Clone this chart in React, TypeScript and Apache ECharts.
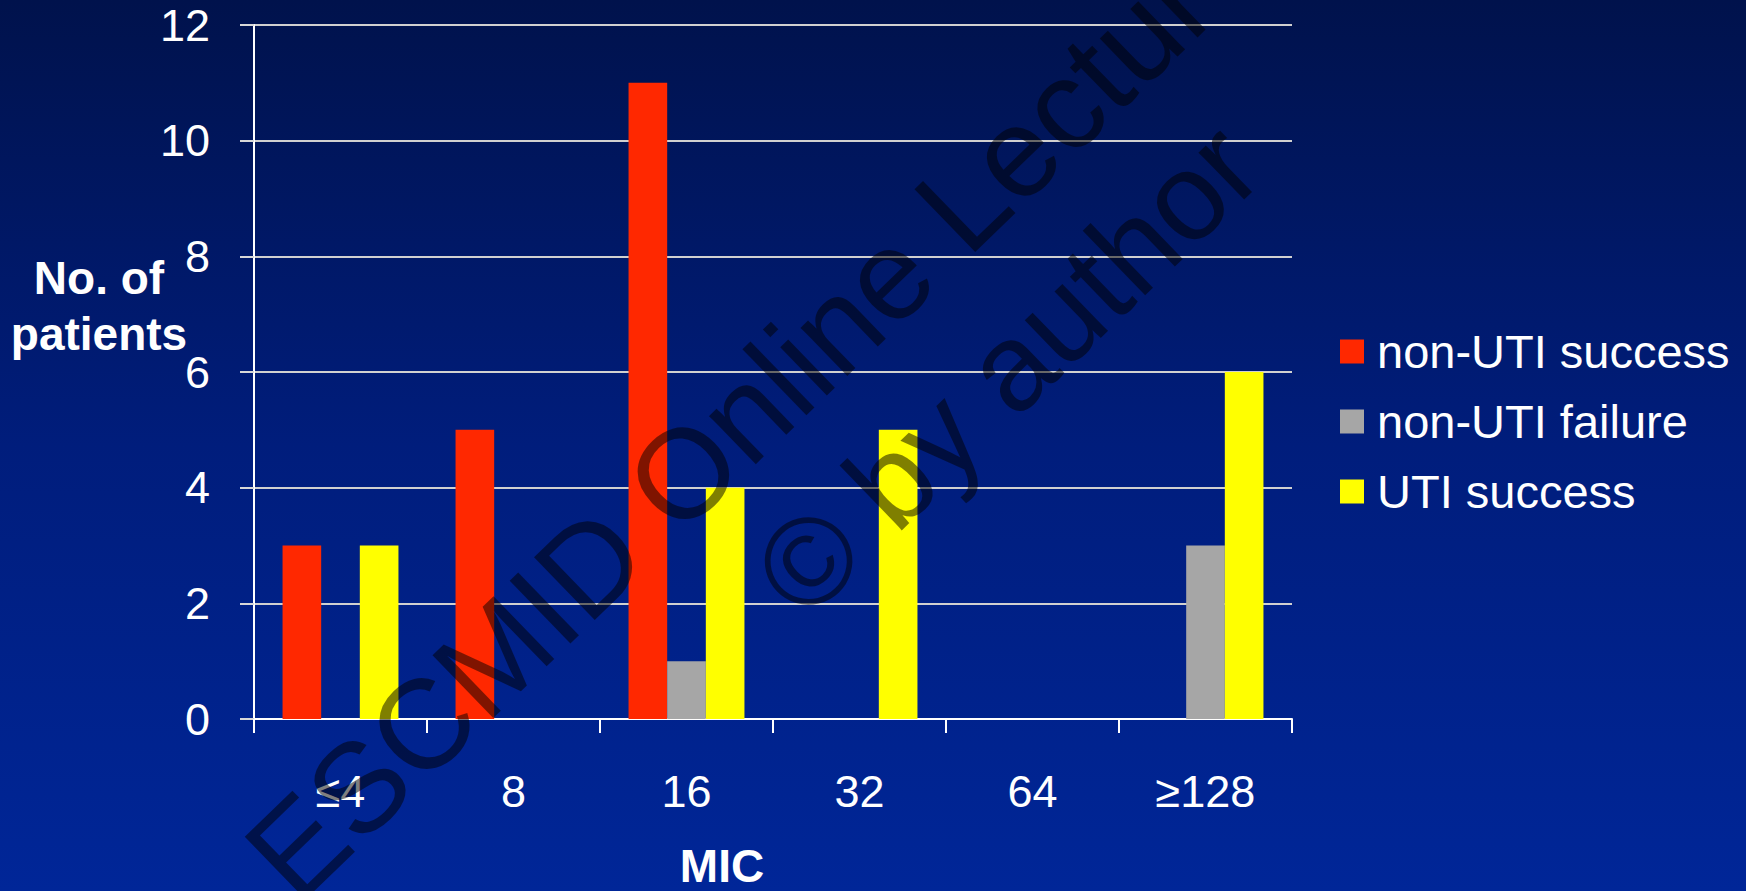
import React, { useEffect, useRef } from "react";
import * as echarts from "echarts";

// MIC categories on the x axis
const categories = ["≤4", "8", "16", "32", "64", "≥128"];

// Number of patients per MIC value
const nonUtiSuccess = [3, 5, 11, 0, 0, 0];
const nonUtiFailure = [0, 0, 1, 0, 0, 3];
const utiSuccess = [3, 0, 4, 5, 0, 6];

// Y axis range
const yMin = 0;
const yMax = 12;
const yStep = 2;

const seriesNames = ["non-UTI success", "non-UTI failure", "UTI success"];
const seriesColors = ["#ff2800", "#a6a6a6", "#ffff00"];

const FONT = '"Liberation Sans", Arial, Helvetica, sans-serif';

export default function App() {
  const ref = useRef<HTMLDivElement>(null);

  useEffect(() => {
    if (!ref.current) return;
    const chart = echarts.init(ref.current, undefined, { renderer: "svg" });

    const values = [nonUtiSuccess, nonUtiFailure, utiSuccess];

    chart.setOption({
      animation: false,
      backgroundColor: new echarts.graphic.LinearGradient(0, 0, 0, 1, [
        { offset: 0, color: "#00124c" },
        { offset: 0.5, color: "#001d7c" },
        { offset: 1, color: "#002698" },
      ]),
      textStyle: { fontFamily: FONT },
      grid: { left: 254, top: 25, width: 1038, height: 694, containLabel: false },
      legend: {
        orient: "vertical",
        left: 1340,
        top: 328,
        padding: 0,
        itemWidth: 24,
        itemHeight: 24,
        itemGap: 23,
        icon: "rect",
        data: seriesNames,
        textStyle: {
          color: "#ffffff",
          fontSize: 47,
          fontFamily: FONT,
          padding: [0, 0, 0, 8],
        },
      },
      xAxis: {
        type: "category",
        data: categories,
        axisLine: { show: true, lineStyle: { color: "#ffffff", width: 2 } },
        axisTick: { show: true, length: 14, lineStyle: { color: "#ffffff", width: 2 } },
        axisLabel: { color: "#ffffff", fontSize: 45, margin: 50, fontFamily: FONT },
        splitLine: { show: false },
      },
      yAxis: {
        type: "value",
        min: yMin,
        max: yMax,
        interval: yStep,
        axisLine: { show: true, lineStyle: { color: "#ffffff", width: 2 } },
        axisTick: { show: true, length: 14, lineStyle: { color: "#d8d8d8", width: 2 } },
        axisLabel: { color: "#ffffff", fontSize: 45, margin: 44, fontFamily: FONT },
        splitLine: { show: true, lineStyle: { color: "#d0d0d0", width: 2 } },
      },
      series: seriesNames.map((name, i) => ({
        name,
        type: "bar",
        data: values[i],
        barGap: "0%",
        barCategoryGap: "33%",
        itemStyle: { color: seriesColors[i] },
      })),
      graphic: [
        {
          type: "text",
          x: 99,
          y: 306,
          silent: true,
          style: {
            text: "No. of\npatients",
            fill: "#ffffff",
            fontSize: 46,
            fontWeight: "bold",
            fontFamily: FONT,
            lineHeight: 56,
            align: "center",
            verticalAlign: "middle",
          },
        },
        {
          type: "text",
          x: 722,
          y: 866,
          silent: true,
          style: {
            text: "MIC",
            fill: "#ffffff",
            fontSize: 46,
            fontWeight: "bold",
            fontFamily: FONT,
            align: "center",
            verticalAlign: "middle",
          },
        },
        {
          // diagonal copyright watermark drawn over the chart
          type: "group",
          x: 959,
          y: 311,
          rotation: (44 * Math.PI) / 180,
          z: 100,
          silent: true,
          children: [
            {
              type: "text",
              x: 0,
              y: -75,
              z: 100,
              style: {
                text: "ESCMID Online Lecture Library",
                fill: "rgba(0,0,0,0.5)",
                fontSize: 127,
                fontFamily: FONT,
                align: "center",
                verticalAlign: "middle",
              },
            },
            {
              type: "text",
              x: -6,
              y: 75,
              z: 100,
              style: {
                text: "© by author",
                fill: "rgba(0,0,0,0.5)",
                fontSize: 124,
                fontFamily: FONT,
                align: "center",
                verticalAlign: "middle",
              },
            },
          ],
        },
      ],
    });

    return () => {
      chart.dispose();
    };
  }, []);

  return (
    <div
      ref={ref}
      style={{ position: "fixed", left: 0, top: 0, width: 1746, height: 891 }}
    />
  );
}
